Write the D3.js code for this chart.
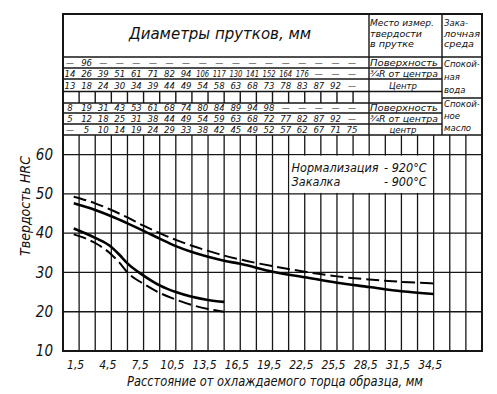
<!DOCTYPE html>
<html>
<head>
<meta charset="utf-8">
<script src="https://cdnjs.cloudflare.com/ajax/libs/d3/7.8.5/d3.min.js"></script>
<style>
  body { margin: 0; background: #fff; }
  svg text { font-family: 'DejaVu Sans Condensed', 'DejaVu Sans', sans-serif; font-style: oblique; fill: #111; }
</style>
</head>
<body>
<div id="chart"></div>
<script>
// tick labels
var xTicks = [1.5, 4.5, 7.5, 10.5, 13.5, 16.5, 19.5, 22.5, 25.5, 28.5, 31.5, 34.5];
var yTicks = [10, 20, 30, 40, 50, 60];

// bar diameters (mm) for each place of measurement
var waterSurface = ["—", "96", "—", "—", "—", "—", "—", "—", "—", "—", "—", "—", "—", "—", "—", "—", "—", "—"];
var waterR34 = ["14", "26", "39", "51", "61", "71", "82", "94", "106", "117", "130", "141", "152", "164", "176", "—", "—", "—"];
var waterCenter = ["13", "18", "24", "30", "34", "39", "44", "49", "54", "58", "63", "68", "73", "78", "83", "87", "92", "—"];
var oilSurface = ["8", "19", "31", "43", "53", "61", "68", "74", "80", "84", "89", "94", "98", "—", "—", "—", "—", "—"];
var oilR34 = ["5", "12", "18", "25", "31", "38", "44", "49", "54", "59", "63", "68", "72", "77", "82", "87", "92", "—"];
var oilCenter = ["—", "5", "10", "14", "19", "24", "29", "33", "38", "42", "45", "49", "52", "57", "62", "67", "71", "75"];

var waterPlaces = ["Поверхность", "¾R от центра", "Центр"];
var oilPlaces = ["Поверхность", "¾R от центра", "центр"];
var waterMedium = ["Спокой-", "ная", "вода"];
var oilMedium = ["Спокой-", "ное", "масло"];

// hardness curves (distance mm -> HRC)
var upperX = [1, 3, 4.5, 6, 7.5, 9, 10.5, 12, 13.5, 15, 16.5, 19.5, 22.5, 25.5, 28.5, 31.5, 34.5];
var upperSolid = [47.6, 45.9, 44.3, 42.5, 40.6, 38.6, 36.7, 35.2, 34.0, 33.0, 32.2, 30.2, 28.8, 27.4, 26.3, 25.2, 24.5];
var upperDashed = [49.3, 47.6, 45.9, 44.0, 41.9, 40.0, 38.3, 36.8, 35.5, 34.3, 33.3, 31.6, 30.2, 29.0, 28.2, 27.6, 27.2];
var lowerX = [1, 3, 4.5, 5.25, 6, 7.5, 9, 10.5, 12, 13.5, 15];
var lowerSolid = [41.2, 38.8, 36.5, 34.5, 32.3, 29.2, 26.7, 25.0, 23.8, 23.0, 22.5];
var lowerDashed = [39.7, 37.5, 34.6, 32.5, 30.0, 27.1, 24.8, 23.1, 21.7, 20.7, 20.0];

var treatment = [["Нормализация", "- 920°C"], ["Закалка", "- 900°C"]];

var W = 497, H = 394;
var left = 63, right = 482, tableTop = 14, plotTop = 135, plotBottom = 351;
var placeCol = 369, mediumCol = 442;

var ru = d3.formatLocale({ decimal: ",", thousands: " ", grouping: [3], currency: ["", " ₽"] });

var svg = d3.select("#chart").append("svg")
    .attr("width", W)
    .attr("height", H);

svg.append("rect").attr("width", W).attr("height", H).attr("fill", "#fff");

// setup scales
var x = d3.scaleLinear().domain([0, 39]).range([left, right]);
var y = d3.scaleLinear().domain([10, 65]).range([plotBottom, plotTop]);
var slot = d3.scalePoint().domain(d3.range(18)).range([70, 352]);

var ink = "#161616";

// ---- plot grid
var grid = svg.append("g").attr("stroke", ink).attr("stroke-width", 1.3);
grid.selectAll(".vl")
    .data(d3.range(1.5, 39, 1.5))
    .enter().append("line")
    .attr("x1", function (d) { return x(d); })
    .attr("x2", function (d) { return x(d); })
    .attr("y1", plotTop)
    .attr("y2", plotBottom);
grid.selectAll(".hl")
    .data(yTicks.slice(1))
    .enter().append("line")
    .attr("x1", left).attr("x2", right)
    .attr("y1", function (d) { return y(d); })
    .attr("y2", function (d) { return y(d); });

// ---- table rows
var rowLines = [57, 68, 79, 91.5, 103, 113, 124, 135];
var tbl = svg.append("g").attr("stroke", ink).attr("stroke-width", 1.4);
rowLines.forEach(function (r) {
    var full = (r === 57 || r === 135);
    tbl.append("line").attr("x1", left).attr("x2", full ? right : mediumCol).attr("y1", r).attr("y2", r);
});
tbl.append("line").attr("x1", mediumCol).attr("x2", right).attr("y1", 98).attr("y2", 98);
tbl.append("line").attr("x1", placeCol).attr("x2", placeCol).attr("y1", tableTop).attr("y2", plotTop);
tbl.append("line").attr("x1", mediumCol).attr("x2", mediumCol).attr("y1", tableTop).attr("y2", plotTop);
// ticks of the empty row
tbl.selectAll(".tick")
    .data(d3.range(1.5, 28, 1.5))
    .enter().append("line")
    .attr("x1", function (d) { return x(d); })
    .attr("x2", function (d) { return x(d); })
    .attr("y1", 91.5).attr("y2", 103);

// outer frame
svg.append("rect")
    .attr("x", left).attr("y", tableTop)
    .attr("width", right - left).attr("height", plotBottom - tableTop)
    .attr("fill", "none").attr("stroke", ink).attr("stroke-width", 2);

// header texts
svg.append("text").attr("x", 220).attr("y", 39)
    .attr("text-anchor", "middle").style("font-size", "16px")
    .attr("textLength", 182).attr("lengthAdjust", "spacingAndGlyphs")
    .text("Диаметры прутков, мм");

var hdr1 = ["Место измер.", "твердости", "в прутке"];
var hdr2 = ["Зака-", "лочная", "среда"];
hdr1.forEach(function (t, i) {
    svg.append("text").attr("x", 370).attr("y", 26 + i * 10.5).style("font-size", "9.5px")
        .attr("textLength", [64, 52, 44][i]).attr("lengthAdjust", "spacingAndGlyphs").text(t);
});
hdr2.forEach(function (t, i) {
    svg.append("text").attr("x", 444).attr("y", 26 + i * 10.5).style("font-size", "9.5px")
        .attr("textLength", [24, 36, 30][i]).attr("lengthAdjust", "spacingAndGlyphs").text(t);
});

// diameter rows
var rows = [
    { vals: waterSurface, base: 65.5 },
    { vals: waterR34, base: 76.5 },
    { vals: waterCenter, base: 88.5 },
    { vals: oilSurface, base: 110.5 },
    { vals: oilR34, base: 121.5 },
    { vals: oilCenter, base: 132.5 }
];
rows.forEach(function (row) {
    svg.append("g").selectAll("text")
        .data(row.vals)
        .enter().append("text")
        .attr("x", function (d, i) { return slot(i); })
        .attr("y", row.base)
        .attr("text-anchor", "middle")
        .style("font-size", "9.5px")
        .each(function (d) {
            if (d.length > 2) d3.select(this).attr("textLength", 13).attr("lengthAdjust", "spacingAndGlyphs");
            if (d === "—") d3.select(this).attr("textLength", 8).attr("lengthAdjust", "spacingAndGlyphs");
        })
        .text(function (d) { return d; });
});

function placeText(list, bases) {
    list.forEach(function (t, i) {
        var c = (i === 2);
        svg.append("text")
            .attr("x", c ? 403 : 370)
            .attr("y", bases[i])
            .attr("text-anchor", c ? "middle" : "start")
            .style("font-size", "9.5px")
            .attr("textLength", c ? null : 68)
            .attr("lengthAdjust", "spacingAndGlyphs")
            .text(t);
    });
}
placeText(waterPlaces, [65.5, 76.5, 88.5]);
placeText(oilPlaces, [110.5, 121.5, 132.5]);

function mediumText(list, bases) {
    list.forEach(function (t, i) {
        svg.append("text").attr("x", 444).attr("y", bases[i]).style("font-size", "9.5px").text(t);
    });
}
mediumText(waterMedium, [67, 80, 93]);
mediumText(oilMedium, [107, 119, 131]);

// ---- treatment box
svg.append("rect")
    .attr("x", x(21) + 1).attr("y", y(60) + 1)
    .attr("width", x(34.5) - x(21) - 2).attr("height", y(50) - y(60) - 2)
    .attr("fill", "#fff");
treatment.forEach(function (t, i) {
    var by = y(60) + 17 + i * 14;
    svg.append("text").attr("x", x(21) + 3).attr("y", by).style("font-size", "12.5px").text(t[0]);
    svg.append("text").attr("x", x(34.5) - 7).attr("y", by).attr("text-anchor", "end").style("font-size", "12.5px").text(t[1]);
});

// ---- curves
var line = d3.line()
    .curve(d3.curveMonotoneX)
    .x(function (d) { return x(d[0]); })
    .y(function (d) { return y(d[1]); });

var curves = [
    { xs: upperX, ys: upperSolid, dash: null },
    { xs: upperX, ys: upperDashed, dash: "13,5" },
    { xs: lowerX, ys: lowerSolid, dash: null },
    { xs: lowerX, ys: lowerDashed, dash: "13,5" }
];
curves.forEach(function (c) {
    svg.append("path")
        .attr("d", line(d3.zip(c.xs, c.ys)))
        .attr("fill", "none")
        .attr("stroke", "#000")
        .attr("stroke-width", c.dash ? 2 : 2.6)
        .attr("stroke-dasharray", c.dash);
});

// ---- axes
var xAxis = d3.axisBottom(x).tickValues(xTicks).tickSize(0).tickFormat(ru.format(".1f"));
var gx = svg.append("g").attr("transform", "translate(0," + plotBottom + ")").call(xAxis);
gx.select(".domain").remove();
gx.selectAll("text").attr("dy", 0).attr("y", 18).attr("dx", -4).style("font-size", "12px");

var yAxis = d3.axisLeft(y).tickValues(yTicks).tickSize(0);
var gy = svg.append("g").attr("transform", "translate(" + left + ",0)").call(yAxis);
gy.select(".domain").remove();
gy.selectAll("text").attr("x", -10).style("font-size", "15px");

svg.append("text")
    .attr("transform", "translate(30,206) rotate(-90)")
    .attr("text-anchor", "middle")
    .style("font-size", "14px")
    .text("Твердость HRC");

svg.append("text")
    .attr("x", 275).attr("y", 386)
    .attr("text-anchor", "middle")
    .style("font-size", "14px")
    .attr("textLength", 296).attr("lengthAdjust", "spacingAndGlyphs")
    .text("Расстояние от охлаждаемого торца образца, мм");
</script>
</body>
</html>
